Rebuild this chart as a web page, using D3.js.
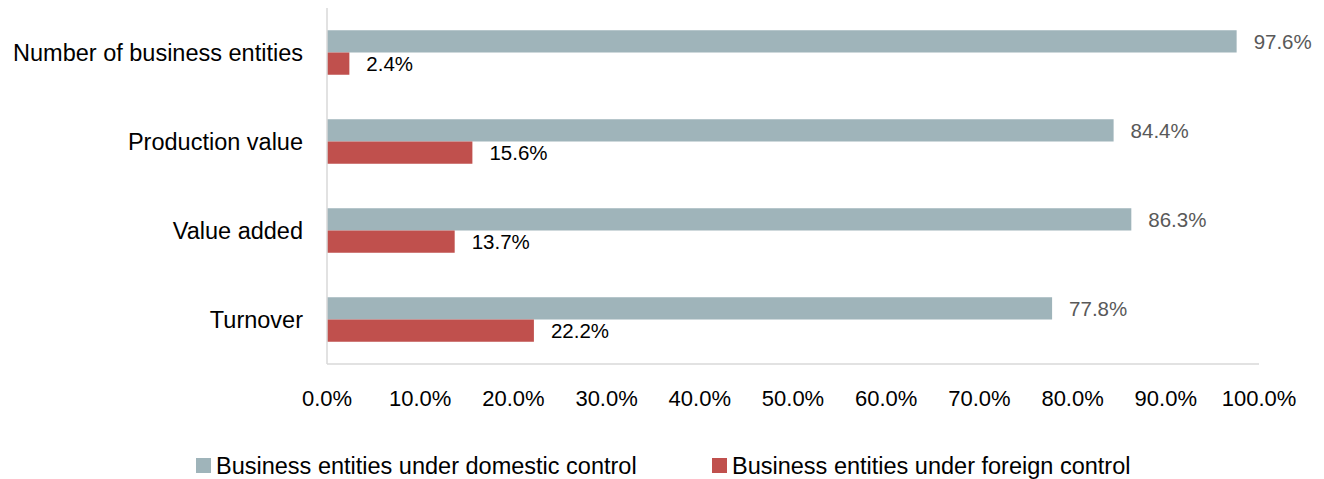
<!DOCTYPE html>
<html>
<head>
    <title>Domestic vs foreign control</title>
    <script src="https://d3js.org/d3.v7.min.js"></script>
    <style>
        body { margin: 0; background: #fff; }
        text { font-family: Arial, "Liberation Sans", sans-serif; }
    </style>
</head>
<body>
<script>
    var categories = ["Number of business entities", "Production value", "Value added", "Turnover"];
    var seriesNames = ["Business entities under domestic control", "Business entities under foreign control"];
    var domestic = [97.6, 84.4, 86.3, 77.8];
    var foreign = [2.4, 15.6, 13.7, 22.2];
    var ticks = [0, 10, 20, 30, 40, 50, 60, 70, 80, 90, 100];
    var colors = ["#9fb4ba", "#c0504d"];

    var w = 1324, h = 479;
    var plotLeft = 327, plotRight = 1259, plotTop = 8, plotBottom = 364;

    var svg = d3.select("body").append("svg")
        .attr("width", w)
        .attr("height", h);

    // scales
    var xScale = d3.scaleLinear().domain([0, 100]).range([plotLeft, plotRight]);
    var yScale = d3.scaleBand().domain(categories).range([plotTop, plotBottom]).paddingInner(0.5).paddingOuter(0.25);
    var inner = d3.scaleBand().domain([0, 1]).range([0, yScale.bandwidth()]);

    var rows = categories.map(function(c, i) {
        return { cat: c, vals: [domestic[i], foreign[i]] };
    });

    var g = svg.selectAll("g.row")
        .data(rows)
        .enter()
        .append("g")
        .attr("class", "row")
        .attr("transform", function(d) { return "translate(0," + yScale(d.cat) + ")"; });

    g.selectAll("rect")
        .data(function(d) { return d.vals; })
        .enter()
        .append("rect")
        .attr("x", xScale(0))
        .attr("y", function(d, i) { return inner(i); })
        .attr("width", function(d) { return xScale(d) - xScale(0); })
        .attr("height", inner.bandwidth())
        .attr("fill", function(d, i) { return colors[i]; });

    g.selectAll("text.val")
        .data(function(d) { return d.vals; })
        .enter()
        .append("text")
        .attr("class", "val")
        .attr("x", function(d) { return xScale(d) + 17; })
        .attr("y", function(d, i) { return inner(i) + inner.bandwidth() / 2; })
        .attr("dy", "0.35em")
        .attr("font-size", "20.5px")
        .attr("fill", function(d, i) { return i === 0 ? "#595959" : "#000"; })
        .text(function(d) { return d.toFixed(1) + "%"; });

    // category labels
    svg.selectAll("text.cat")
        .data(categories)
        .enter()
        .append("text")
        .attr("class", "cat")
        .attr("x", 303)
        .attr("y", function(d) { return yScale(d) + yScale.bandwidth() / 2; })
        .attr("dy", "0.35em")
        .attr("text-anchor", "end")
        .attr("font-size", "23.5px")
        .attr("fill", "#000")
        .text(function(d) { return d; });

    // axis lines
    svg.append("line")
        .attr("x1", plotLeft).attr("x2", plotLeft)
        .attr("y1", plotTop).attr("y2", plotBottom)
        .attr("stroke", "#d9d9d9").attr("stroke-width", 1.5);
    svg.append("line")
        .attr("x1", plotLeft).attr("x2", plotRight)
        .attr("y1", plotBottom).attr("y2", plotBottom)
        .attr("stroke", "#d9d9d9").attr("stroke-width", 1.5);

    // x tick labels
    svg.selectAll("text.tick")
        .data(ticks)
        .enter()
        .append("text")
        .attr("class", "tick")
        .attr("x", function(d) { return xScale(d); })
        .attr("y", 398)
        .attr("dy", "0.35em")
        .attr("text-anchor", "middle")
        .attr("font-size", "22px")
        .attr("fill", "#000")
        .text(function(d) { return d.toFixed(1) + "%"; });

    // legend
    var legendX = [196, 712];
    var lg = svg.selectAll("g.legend")
        .data(seriesNames)
        .enter()
        .append("g")
        .attr("class", "legend")
        .attr("transform", function(d, i) { return "translate(" + legendX[i] + ",458)"; });
    lg.append("rect")
        .attr("width", 15).attr("height", 15)
        .attr("fill", function(d, i) { return colors[i]; });
    lg.append("text")
        .attr("x", 20)
        .attr("y", 7.5)
        .attr("dy", "0.35em")
        .attr("font-size", "23.5px")
        .attr("fill", "#000")
        .text(function(d) { return d; });
</script>
</body>
</html>
